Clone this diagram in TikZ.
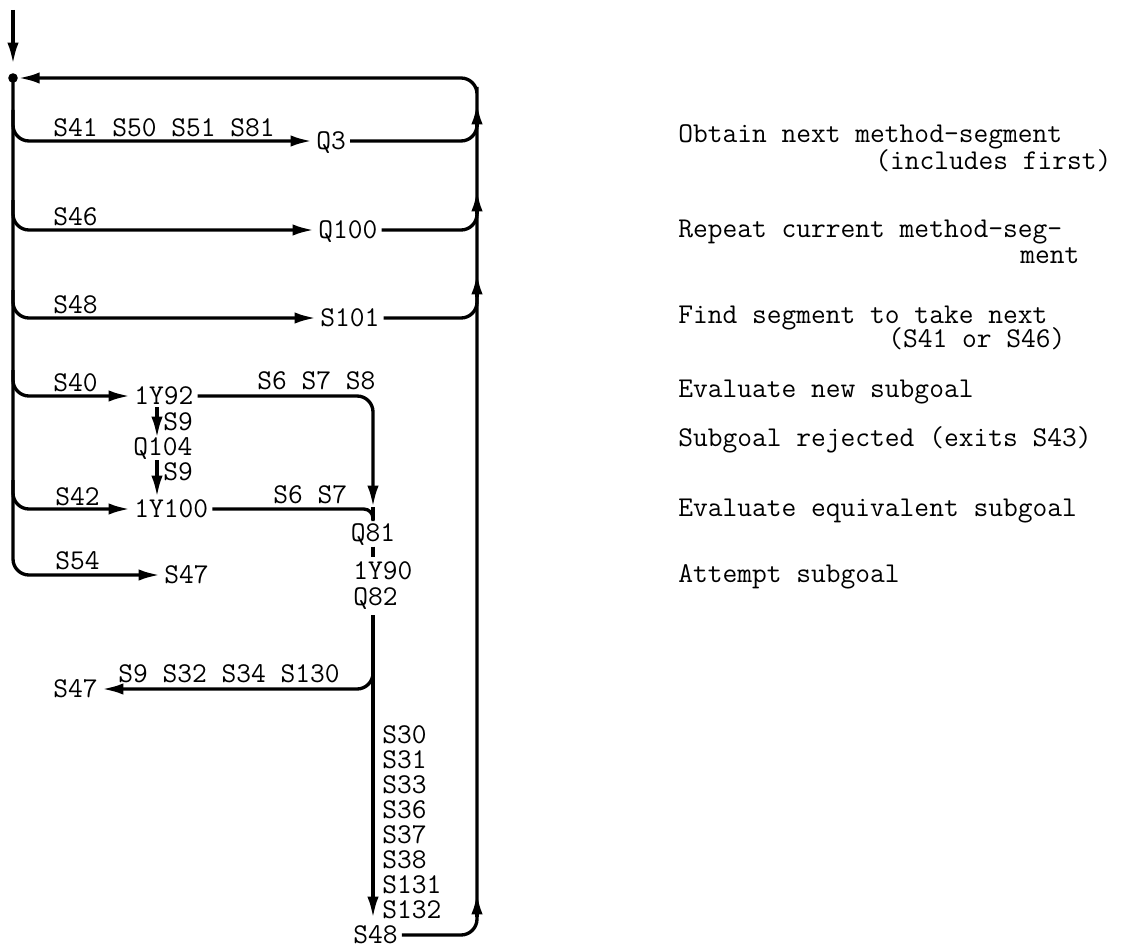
\documentclass[tikz,border=0pt]{standalone}
\usepackage{fontspec}
\usetikzlibrary{arrows.meta}
\begin{document}
\begin{tikzpicture}[x=0.75pt,y=-0.75pt,
  ln/.style={line width=2.5pt, rounded corners=12pt},
  tip/.style={-{Latex[length=16pt,width=8.5pt]}},
  txt/.style={font=\fontsize{21.5}{26}\selectfont\ttfamily, inner xsep=3pt, inner ysep=0pt, text height=13.1pt, text depth=0pt}]
\useasboundingbox (0,0) rectangle (1132,949);

% main nodes
\node[txt,anchor=west] (Q3) at (312,141) {Q3};
\node[txt,anchor=west] (Q100) at (314,230) {Q100};
\node[txt,anchor=west] (S101) at (316,318) {S101};
\node[txt,anchor=west] (Y92) at (130,396) {1Y92};
\node[txt,anchor=west] (Q104) at (129,447) {Q104};
\node[txt,anchor=west] (Y100) at (130,509) {1Y100};
\node[txt,anchor=west] (S47a) at (160,575) {S47};
\node[txt] (Q81) at (373,533) {Q81};
\node[txt,anchor=west] (Y90) at (349,571) {1Y90};
\node[txt,anchor=west] (Q82) at (349,597) {Q82};
\node[txt,anchor=east] (S47b) at (102,689) {S47};
\node[txt,anchor=west] (S48b) at (349,935) {S48};

% labels
\node[txt,anchor=west] (l1) at (49,128) {S41 S50 S51 S81};
\node[txt,anchor=west] (l2) at (49,217) {S46};
\node[txt,anchor=west] (l3) at (49,305) {S48};
\node[txt,anchor=west] (l4) at (49,383) {S40};
\node[txt,anchor=west] (l5) at (51,497) {S42};
\node[txt,anchor=west] (l6) at (51,561) {S54};
\node[txt,anchor=west] (l7) at (253,381) {S6 S7 S8};
\node[txt,anchor=west] (l8) at (269,495) {S6 S7};
\node[txt,anchor=west] (l9) at (159,422) {S9};
\node[txt,anchor=west] (l10) at (159,472) {S9};
\node[txt,anchor=west] (l11) at (114,674) {S9 S32 S34 S130};
\node[txt,anchor=west] (v1) at (378,735) {S30};
\node[txt,anchor=west] (v2) at (378,760) {S31};
\node[txt,anchor=west] (v3) at (378,785) {S33};
\node[txt,anchor=west] (v4) at (378,810) {S36};
\node[txt,anchor=west] (v5) at (378,835) {S37};
\node[txt,anchor=west] (v6) at (378,860) {S38};
\node[txt,anchor=west] (v7) at (378,885) {S131};
\node[txt,anchor=west] (v8) at (378,910) {S132};

% descriptions
\node[txt,anchor=west] (d1) at (674,134) {Obtain next method-segment};
\node[txt,anchor=west] (d1b) at (871,161) {(includes first)};
\node[txt,anchor=west] (d2) at (674,229) {Repeat current method-seg-};
\node[txt,anchor=west] (d2b) at (1016,255) {ment};
\node[txt,anchor=west] (d3) at (674,315) {Find segment to take next};
\node[txt,anchor=west] (d3b) at (884,339) {(S41 or S46)};
\node[txt,anchor=west] (d4) at (674,389) {Evaluate new subgoal};
\node[txt,anchor=west] (d5) at (674,438) {Subgoal rejected (exits S43)};
\node[txt,anchor=west] (d6) at (674,508) {Evaluate equivalent subgoal};
\node[txt,anchor=west] (d7) at (674,574) {Attempt subgoal};

% coordinates
\coordinate (top) at (13,10);
\coordinate (J) at (13,78);
\coordinate (R1) at (477,103);
\coordinate (R2) at (477,190);
\coordinate (R3) at (477,273);
\coordinate (R4) at (477,893);
\coordinate (M1) at (373,507);
\coordinate (V0) at (373,615);
\coordinate (V1) at (373,918);

% entry
\draw[ln,tip] (top) -- (13,64);

% left trunk and branches
\draw[ln,tip] (J) |- (S47a.west);
\draw[ln,tip] (13,110) |- (Q3.west);
\draw[ln,tip] (13,200) |- (Q100.west);
\draw[ln,tip] (13,290) |- (S101.west);
\draw[ln,tip] (13,370) |- (Y92.west);
\draw[ln,tip] (13,480) |- (Y100.west);

% right trunk (continuous) and its arrowheads
\draw[ln] (Q3.east) -| (477,120);
\draw[ln] (Q100.east) -| (477,208);
\draw[ln] (S101.east) -| (477,292);
\draw[ln,tip,shorten >=4pt] (S48b.east) -| (R1) |- (J);
\draw[ln,tip] (477,917) -- (R4);
\draw[ln,tip] (477,297) -- (R3);
\draw[ln,tip] (477,214) -- (R2);
\draw[ln,tip] (477,127) -- (R1);

% middle
\draw[ln,tip] (Y92.east) -| (M1);
\draw[ln] (M1) -- (373,520);
\draw[ln,rounded corners=7pt] (Y100.east) -| (373,521);
\draw[ln,tip] (157,407) -- (157,438);
\draw[ln,tip] (157,460) -- (157,497);
\draw[ln,shorten <=3.5pt,shorten >=3.5pt] (Q81.south) -- (Q81.south |- Y90.north);
\draw[ln,tip] (V0) -- (V1);
\draw[ln,tip] (373,650) |- (S47b.east);

\fill (J) circle[radius=3.6pt];
\end{tikzpicture}
\end{document}
